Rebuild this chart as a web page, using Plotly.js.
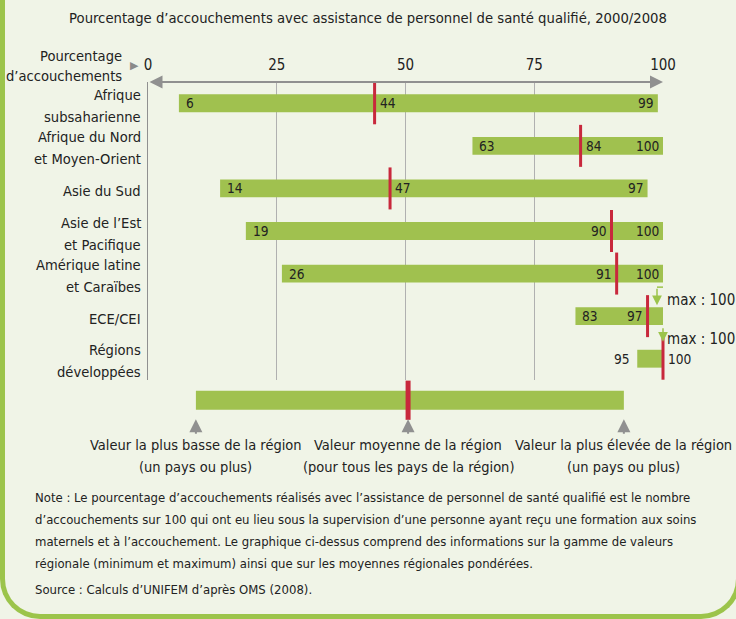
<!DOCTYPE html>
<html><head><meta charset="utf-8">
<script src="https://cdn.plot.ly/plotly-3.0.1.min.js"></script>
<style>
html,body{margin:0;padding:0;}
body{width:736px;height:619px;overflow:hidden;background:#f0f4e7;position:relative;}
#frame{position:absolute;left:0;top:-50px;width:741px;height:669px;box-sizing:border-box;border:5px solid #9cc44b;border-top:none;border-radius:0 0 40px 40px;}
#chart{position:absolute;left:0;top:0;width:736px;height:619px;}
</style></head><body>
<div id="frame"></div><div id="chart"></div>
<script>
// ---- data ----
const regions = ['Afrique<br>subsaharienne', 'Afrique du Nord<br>et Moyen-Orient', 'Asie du Sud', 'Asie de l’Est<br>et Pacifique', 'Amérique latine<br>et Caraïbes', 'ECE/CEI', 'Régions<br>développées'];
const minVals  = [6, 63, 14, 19, 26, 83, 95];
const meanVals = [44, 84, 47, 90, 91, 97, 100];
const maxVals  = [99, 100, 97, 100, 100, 100, 100];
const xTicks = [0, 25, 50, 75, 100];
const keyPositions = [9.3, 50.5, 92.4];
const keyLine1 = ['Valeur la plus basse de la région', 'Valeur moyenne de la région', 'Valeur la plus élevée de la région'];
const keyLine2 = ['(un pays ou plus)', '(pour tous les pays de la région)', '(un pays ou plus)'];
const titleText = 'Pourcentage d’accouchements avec assistance de personnel de santé qualifié, 2000/2008';
const axisLabel = ['Pourcentage', 'd’accouchements'];
const noteLines = [
  'Note : Le pourcentage d’accouchements réalisés avec l’assistance de personnel de santé qualifié est le nombre',
  'd’accouchements sur 100 qui ont eu lieu sous la supervision d’une personne ayant reçu une formation aux soins',
  'maternels et à l’accouchement. Le graphique ci-dessus comprend des informations sur la gamme de valeurs',
  'régionale (minimum et maximum) ainsi que sur les moyennes régionales pondérées.'
];
const sourceText = 'Source : Calculs d’UNIFEM d’après OMS (2008).';

// ---- label styling (per row) ----
const meanLabelSide = ['right', 'right', 'right', 'left', 'left', 'left', 'right'];
const maxLabelMode  = ['inside', 'inside', 'inside', 'inside', 'inside', 'callout', 'callout'];
const minLabelMode  = ['inside', 'inside', 'inside', 'inside', 'inside', 'inside', 'outside'];

const FONT = '"Liberation Sans Narrow", "Arial Narrow", "DejaVu Sans Condensed", sans-serif';
const TXT = '#222222';
const GREEN = '#a0c14f';
const RED = '#c8283c';
const GRAY = '#909090';
const ARROWGREEN = '#9cc44b';

const traces = [
  {type: 'bar', orientation: 'h', y: regions, base: minVals,
   x: maxVals.map((v, i) => v - minVals[i]), width: 0.42,
   marker: {color: GREEN}, hoverinfo: 'skip', xaxis: 'x', yaxis: 'y'},
  {type: 'scatter', mode: 'markers', y: regions, x: meanVals, cliponaxis: false,
   marker: {symbol: 'line-ns', size: 30, color: RED, line: {width: 3, color: RED}},
   hoverinfo: 'skip', xaxis: 'x', yaxis: 'y'},
  {type: 'bar', orientation: 'h', y: [0], base: [keyPositions[0]],
   x: [keyPositions[2] - keyPositions[0]], width: 0.96,
   marker: {color: GREEN}, hoverinfo: 'skip', xaxis: 'x2', yaxis: 'y2'},
  {type: 'scatter', mode: 'markers', y: [0], x: [keyPositions[1]], cliponaxis: false,
   marker: {symbol: 'line-ns', size: 28, color: RED, line: {width: 5, color: RED}},
   hoverinfo: 'skip', xaxis: 'x2', yaxis: 'y2'}
];

const ann = [];
const shapes = [];
const f = (s, c) => ({family: FONT, size: s, color: c || TXT});

// region labels
regions.forEach((r, i) => {
  const lines = r.split('<br>');
  const shifts = lines.length === 2 ? [9, -13] : [-2];
  lines.forEach((ln, k) => {
    ann.push({xref: 'paper', x: 0, xshift: -5, xanchor: 'right', yref: 'y', y: r, yshift: shifts[k],
      yanchor: 'middle', text: ln, showarrow: false, font: f(14.6)});
  });
  // min label
  if (minLabelMode[i] === 'inside') {
    ann.push({xref: 'x', x: minVals[i], xanchor: 'left', xshift: 5, yref: 'y', y: r, yanchor: 'middle', text: String(minVals[i]), showarrow: false, font: f(13.6)});
  } else {
    ann.push({xref: 'x', x: minVals[i], xanchor: 'right', xshift: -5, yref: 'y', y: r, yanchor: 'middle', text: String(minVals[i]), showarrow: false, font: f(13.6)});
  }
  // mean label
  if (meanLabelSide[i] === 'right') {
    ann.push({xref: 'x', x: meanVals[i], xanchor: 'left', xshift: 3, yref: 'y', y: r, yanchor: 'middle', text: String(meanVals[i]), showarrow: false, font: f(13.6)});
  } else {
    ann.push({xref: 'x', x: meanVals[i], xanchor: 'right', xshift: -3, yref: 'y', y: r, yanchor: 'middle', text: String(meanVals[i]), showarrow: false, font: f(13.6)});
  }
  // max label
  if (maxLabelMode[i] === 'inside') {
    ann.push({xref: 'x', x: maxVals[i], xanchor: 'right', xshift: -2, yref: 'y', y: r, yanchor: 'middle', text: String(maxVals[i]), showarrow: false, font: f(13.6)});
  } else {
    const k = i;
    const xs = (k === 5) ? -6 : 0;
    const ay = (k === 5) ? -29 : -32;
    const so = (k === 5) ? 11 : 17;
    ann.push({xref: 'x', x: maxVals[i], xshift: xs, yref: 'y', y: r, ax: 0, ay: ay, standoff: so,
      showarrow: true, arrowhead: 2, arrowsize: 1.3, arrowwidth: 1.5, arrowcolor: ARROWGREEN, text: ''});
    ann.push({xref: 'x', x: maxVals[i], xanchor: 'left', xshift: 2, yref: 'y', y: r, yanchor: 'middle', yshift: (k === 5) ? 16 : 20,
      text: 'max : ' + maxVals[i], showarrow: false, font: f(15)});
    const yIdx = i + ay / 42.57;
    const x0 = maxVals[i] + xs / 5.15;
    shapes.push({type: 'line', xref: 'x', yref: 'y', x0: x0, x1: maxVals[i] + 3.7, y0: yIdx, y1: yIdx,
      line: {color: ARROWGREEN, width: 1.5}});
  }
});

// double-headed axis arrow
ann.push({xref: 'x', x: 100, yref: 'paper', y: 1, axref: 'x', ax: 0, ayref: 'pixel', ay: 0,
  showarrow: true, arrowside: 'end+start', arrowhead: 2, startarrowhead: 2, arrowsize: 1.3, startarrowsize: 1.3,
  arrowwidth: 2, arrowcolor: GRAY, text: ''});
// axis label
ann.push({xref: 'paper', x: 0, xshift: -24, xanchor: 'right', yref: 'paper', y: 1, yanchor: 'middle', yshift: 27, text: axisLabel[0], showarrow: false, font: f(14.6)});
ann.push({xref: 'paper', x: 0, xshift: -24, xanchor: 'right', yref: 'paper', y: 1, yanchor: 'middle', yshift: 7, text: axisLabel[1], showarrow: false, font: f(14.6)});
ann.push({xref: 'paper', x: 0, xshift: -14, xanchor: 'center', yref: 'paper', y: 1, yanchor: 'middle', yshift: 17, text: '▶', showarrow: false, font: {family: 'DejaVu Sans', size: 11, color: '#8a8a8a'}});

// key
keyPositions.forEach((p, i) => {
  ann.push({xref: 'x2', x: p, yref: 'y2', y: 0, ax: 0, ay: 35, standoff: 19, showarrow: true,
    arrowhead: 2, arrowsize: 1.3, arrowwidth: 2, arrowcolor: GRAY, text: ''});
  ann.push({xref: 'x2', x: p, xanchor: 'center', yref: 'y2', y: 0, yanchor: 'middle', yshift: -45, text: keyLine1[i], showarrow: false, font: f(14.5)});
  ann.push({xref: 'x2', x: p, xanchor: 'center', yref: 'y2', y: 0, yanchor: 'middle', yshift: -67, text: keyLine2[i], showarrow: false, font: f(14.5)});
});

// note and source
noteLines.forEach((t, i) => {
  ann.push({xref: 'paper', x: (33 - 148) / 515, xanchor: 'left', yref: 'paper', y: 0, yanchor: 'middle', yshift: 420 - (497 + 22.3 * i),
    text: t, showarrow: false, font: f(13)});
});
ann.push({xref: 'paper', x: (33 - 148) / 515, xanchor: 'left', yref: 'paper', y: 0, yanchor: 'middle', yshift: 420 - 589,
  text: sourceText, showarrow: false, font: f(13)});

const layout = {
  width: 736, height: 619,
  margin: {l: 148, r: 73, t: 82, b: 199},
  paper_bgcolor: 'rgba(0,0,0,0)', plot_bgcolor: 'rgba(0,0,0,0)',
  showlegend: false,
  font: {family: FONT, color: TXT},
  title: {text: titleText, font: f(14.7), x: 0.5, xref: 'container', xanchor: 'center',
    y: 1 - 18 / 619, yref: 'container', yanchor: 'middle'},
  xaxis: {range: [0, 100], side: 'top', tickvals: xTicks, ticktext: xTicks.map(String), showgrid: true,
    gridcolor: '#b0b0b0', gridwidth: 1, zeroline: false, showline: false, ticks: '',
    ticklabelstandoff: 8, tickfont: f(15), fixedrange: true, anchor: 'y'},
  yaxis: {type: 'category', categoryarray: regions, categoryorder: 'array', range: [6.5, -0.5],
    domain: [40 / 338, 1], showticklabels: false, showline: true, linecolor: GRAY, linewidth: 1.5,
    showgrid: false, zeroline: false, ticks: '', fixedrange: true, anchor: 'x'},
  xaxis2: {range: [0, 100], domain: [0, 1], visible: false, anchor: 'y2', fixedrange: true},
  yaxis2: {range: [-1, 1], domain: [0, 0.117], visible: false, anchor: 'x2', fixedrange: true},
  annotations: ann,
  shapes: shapes
};

Plotly.newPlot('chart', traces, layout, {staticPlot: true, displayModeBar: false});
</script>
</body></html>
